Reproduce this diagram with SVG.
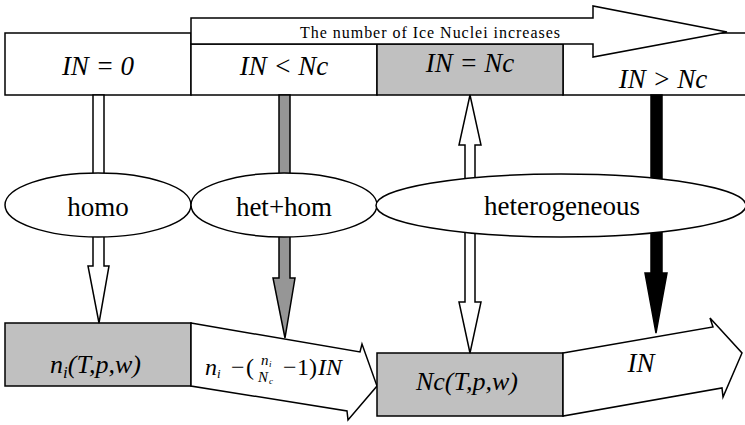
<svg xmlns="http://www.w3.org/2000/svg" width="745" height="425" viewBox="0 0 745 425" font-family="Liberation Serif, Times New Roman, serif">
<style>
.ln{stroke:#000;stroke-width:1.5;stroke-linejoin:miter}
.w{fill:#fff}
.g{fill:#c0c0c0}
.t{font-family:"Liberation Serif","Times New Roman",serif;fill:#000}
.it{font-style:italic}
.big{font-size:27px}
.mid{font-size:26px}
</style>
<rect width="745" height="425" fill="#fff"/>
<g id="cell-in0">
<rect class="ln w" x="5" y="33" width="186" height="62"/>
<text class="t it big" x="98" y="75" text-anchor="middle">IN = 0</text>
</g>
<g id="cell-in-gt-nc">
<rect class="ln w" x="563" y="33" width="190" height="62"/>
<text class="t it big" x="663" y="88" text-anchor="middle">IN &gt; Nc</text>
</g>
<g id="cell-in-lt-nc">
<rect class="ln w" x="191" y="44" width="186" height="51"/>
<text class="t it big" x="284" y="75" text-anchor="middle">IN &lt; Nc</text>
</g>
<g id="cell-in-eq-nc">
<rect class="ln g" x="377" y="44" width="186" height="51"/>
<text class="t it big" x="470" y="72" text-anchor="middle">IN = Nc</text>
</g>
<g id="increase-arrow">
<polygon class="ln w" points="191,18 593,18 593,6 727,32 593,57 593,44 191,44"/>
<text class="t" x="300" y="38" font-size="16" textLength="260" lengthAdjust="spacing">The number of Ice Nuclei increases</text>
</g>
<g id="ni-box">
<rect class="ln g" x="5" y="323" width="186" height="63"/>
<text class="t it mid" x="50" y="373">n<tspan font-size="17" dy="5">i</tspan><tspan dy="-5">(T,p,w)</tspan></text>
</g>
<g id="ni-arrow">
<polygon class="ln w" points="191,323 360,352 362,344 377,386 348,420 347,411 191,386"/>
<text class="t it" x="205" y="375" font-size="24">n</text>
<text class="t it" x="217" y="378" font-size="13">i</text>
<text class="t" x="231" y="375" font-size="24">−</text>
<text class="t" x="246" y="375" font-size="24">(</text>
<text class="t it" x="261" y="365" font-size="15">n</text>
<text class="t it" x="269" y="367" font-size="9">i</text>
<text class="t it" x="258" y="382" font-size="15">N</text>
<text class="t it" x="269" y="384" font-size="9">c</text>
<text class="t" x="283" y="375" font-size="24">−</text>
<text class="t" x="297" y="375" font-size="24">1</text>
<text class="t" x="309" y="375" font-size="24">)</text>
<text class="t it" x="318" y="375" font-size="24">IN</text>
</g>
<g id="nc-box">
<rect class="ln g" x="377" y="353" width="186" height="63"/>
<text class="t it mid" x="467" y="390" text-anchor="middle">Nc(T,p,w)</text>
</g>
<g id="in-arrow">
<polygon class="ln w" points="563,353 713,327 710,318 742,353 723,397 722,388 563,416"/>
<text class="t it big" x="641" y="372" text-anchor="middle">IN</text>
</g>
<g id="connectors">
<polygon class="ln w" points="93,95 104,95 104,266 109,266 99,323 88,266 93,266"/>
<polygon class="ln" fill="#969696" points="279,95 290,95 290,278 295,278 285,338 273,278 279,278"/>
<polygon class="ln w" points="470,95 481,145 475,145 475,302 481,302 470,353 459,302 465,302 465,145 459,145"/>
<polygon class="ln" fill="#000" points="651,95 662,95 662,273 667,273 656,333 645,273 651,273"/>
</g>
<g id="homo">
<ellipse class="ln w" cx="98" cy="205" rx="93" ry="32"/>
<text class="t big" x="98" y="216" text-anchor="middle">homo</text>
</g>
<g id="het-hom">
<ellipse class="ln w" cx="284" cy="205" rx="93" ry="32"/>
<text class="t big" x="284" y="216" text-anchor="middle">het+hom</text>
</g>
<g id="heterogeneous">
<ellipse class="ln w" cx="561" cy="205.5" rx="185" ry="31.5"/>
<text class="t big" x="562" y="215" text-anchor="middle">heterogeneous</text>
</g>
</svg>
